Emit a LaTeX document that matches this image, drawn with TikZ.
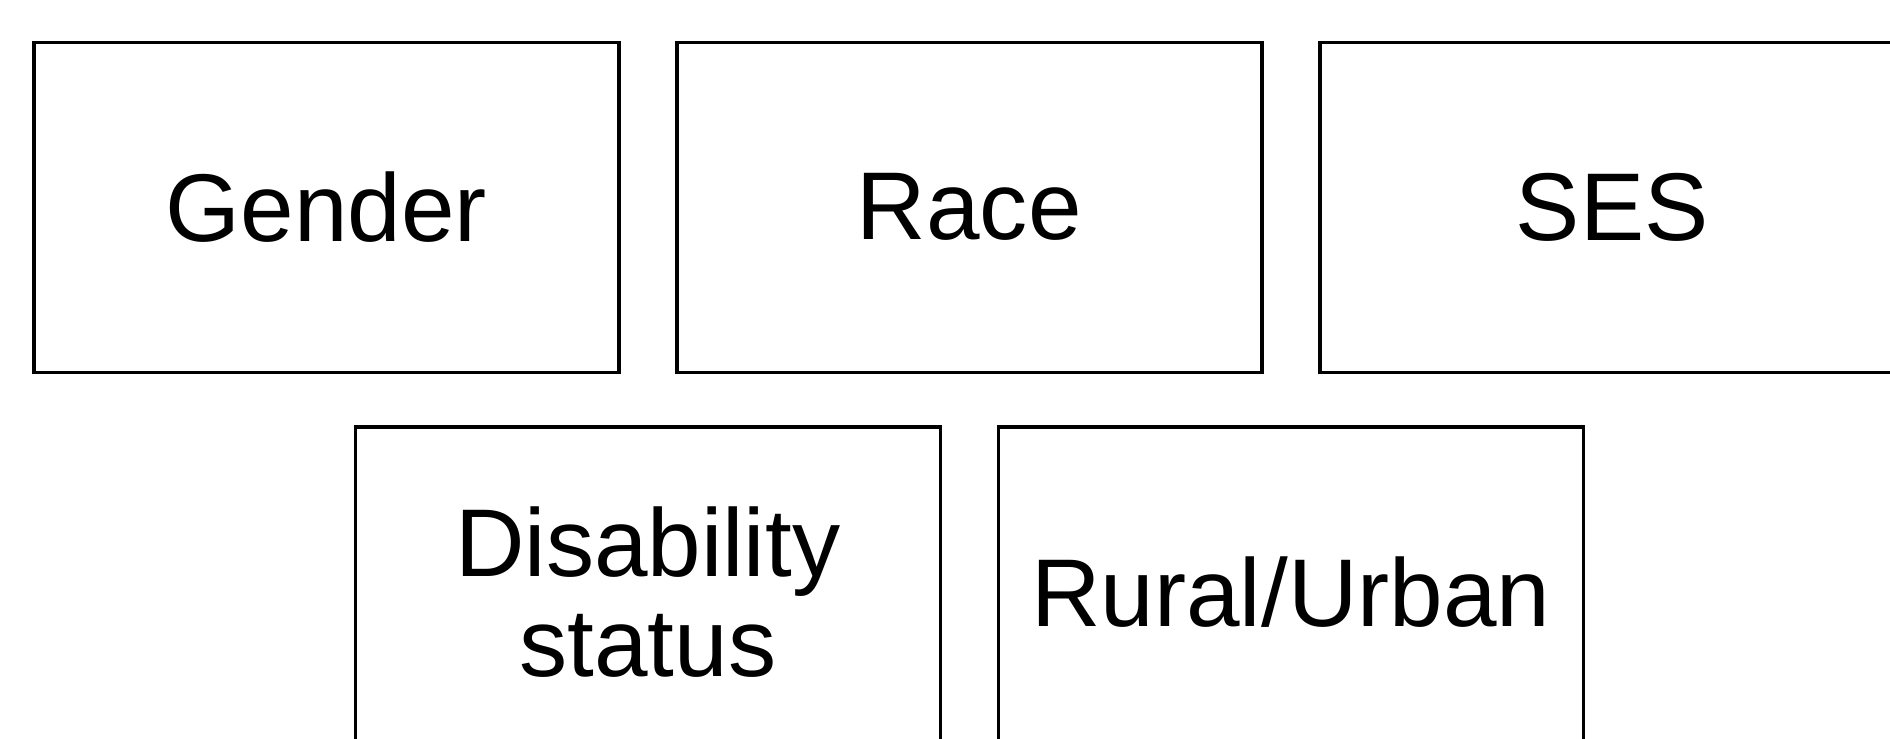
\documentclass[tikz,border=0pt]{standalone}
\usepackage{fontspec}
\setmainfont{Liberation Sans}
\usepackage{tikz}
\usetikzlibrary{calc, positioning}

\tikzset{
    attr/.style={draw, line width=1.4pt, outer sep=0pt, inner sep=0pt,
        minimum width=234pt, minimum height=132pt, align=center,
        font=\fontsize{38.5}{40}\selectfont}
}

\begin{document}
\begin{tikzpicture}
            \useasboundingbox (0,0) rectangle (756pt,-295.2pt);
            \begin{scope}
            \clip (0,0) rectangle (756pt,-295.2pt);
            % top row
            \node[attr] (gender) at (130.5pt,-82.9pt) {Gender};
            \node[attr, right=23.2pt of gender] (race) {Race};
            \node[attr, right=23.2pt of race] (ses) {SES};
            % bottom row
            \node[attr, below=21.8pt of {$(gender.south)!0.5!(race.south)$}] (disab) {Disability\\status};
            \node[attr, right=23.2pt of disab] (rural) {Rural/Urban};
            \end{scope}
        \end{tikzpicture}
\end{document}
